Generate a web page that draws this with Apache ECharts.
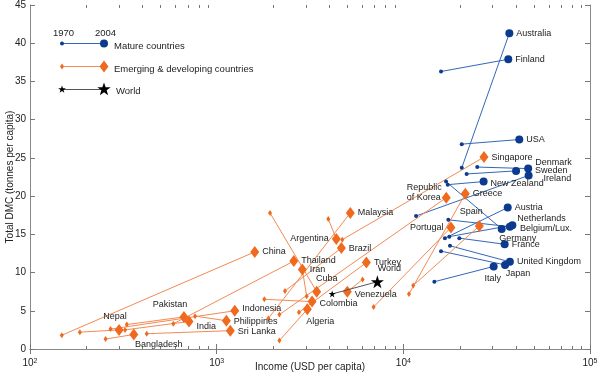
<!DOCTYPE html>
<html><head><meta charset="utf-8">
<script src="https://cdn.jsdelivr.net/npm/echarts@6/dist/echarts.min.js"></script>
<style>html,body{margin:0;padding:0;background:#fff}#c{width:600px;height:376px}</style>
</head><body><div id="c"></div>
<script>
// Mature countries
var matureNames = ['Australia','Finland','USA','Denmark','Sweden','Ireland','New Zealand','Austria','Netherlands','Belgium/Lux.','Germany','France','United Kingdom','Japan','Italy'];
var matureInc1970 = [20560,15920,20560,24880,21830,11700,17300,16700,17630,17420,16940,19950,17780,15920,14660];
var matureDmc1970 = [23.7,36.3,26.8,23.8,22.9,17.4,21.5,14.5,14.7,16.9,21.9,14.5,13.5,12.8,8.8];
var matureInc2004 = [36980,36500,41800,46650,40180,46900,26920,36240,38370,37220,33650,34900,37220,35070,30480];
var matureDmc2004 = [41.3,37.9,27.4,23.6,23.3,22.7,21.9,18.5,16.2,16.0,15.7,13.7,11.4,11.0,10.8];

// Emerging & developing countries
var emergNames = ['Singapore','Republic of Korea','Greece','Spain','Portugal','Malaysia','Argentina','Brazil','China','Thailand','Iran','Turkey','Cuba','Venezuela','Colombia','Algeria','Indonesia','Philippines','Sri Lanka','Pakistan','India','Nepal','Bangladesh'];
var emergInc1970 = [4710,2168,10720,11300,6930,1892,3963,2323,148,586,3035,2760,1931,6050,1800,2168,270,766,422,330,323,185,254];
var emergDmc1970 = [14.3,4.5,7.2,8.3,5.5,4.0,17.0,7.6,1.8,3.3,6.9,4.8,17.8,9.1,6.5,1.1,2.6,4.3,2.0,3.2,2.5,2.2,1.3];
var emergInc2004 = [27040,16980,21480,25530,17990,5200,4375,4656,1600,2590,2877,6340,3435,5012,3245,3060,1250,1127,1183,668,711,300,360];
var emergDmc2004 = [25.1,19.8,20.3,16.1,15.9,17.8,14.4,13.2,12.7,11.5,10.4,11.3,7.5,7.5,6.2,5.2,5.0,3.7,2.4,4.2,3.6,2.5,1.9];

// World
var worldInc = [4158,7260];
var worldDmc = [7.2,8.8];

var xMajorTicks = [100,1000,10000,100000];
var xMinorTicks = [200,300,400,500,600,700,800,900,2000,3000,4000,5000,6000,7000,8000,9000,20000,30000,40000,50000,60000,70000,80000,90000];
var yTicks = [0,5,10,15,20,25,30,35,40,45];

var labelPos = {
 'Australia':['right',[0,0]],'Finland':['right',[0,0]],'USA':['right',[0,0]],
 'Denmark':['right',[0,-6]],'Sweden':['right',[12,0]],'Ireland':['right',[8,3]],
 'New Zealand':['right',[0,2]],'Austria':['right',[0,0]],'Netherlands':['right',[-2,-7]],
 'Belgium/Lux.':['right',[3,2]],'Germany':['bottom',[16,-2]],'France':['right',[0,0]],
 'United Kingdom':['right',[0,0]],'Japan':['bottom',[13,-3]],'Italy':['bottom',[-1,0]],
 'Singapore':['right',[0,0]],'Republic of Korea':['left',[6,-5]],'Greece':['right',[0,0]],
 'Spain':['top',[-8,0]],'Portugal':['left',[0,0]],'Malaysia':['right',[0,0]],
 'Argentina':['left',[0,0]],'Brazil':['right',[0,0]],'China':['right',[0,0]],
 'Thailand':['right',[0,-1]],'Iran':['right',[0,0]],'Turkey':['right',[0,0]],
 'Cuba':['top',[10,1]],'Venezuela':['right',[0,3]],'Colombia':['right',[0,2]],
 'Algeria':['bottom',[13,-2]],'Indonesia':['right',[0,-2]],'Philippines':['right',[0,1]],
 'Sri Lanka':['right',[0,1]],'Pakistan':['top',[-14,2]],'India':['right',[0,5]],
 'Nepal':['top',[-4,1]],'Bangladesh':['bottom',[25,-4]],'World':['top',[12,1]]
};
var labelText = {'Republic of Korea':'{a|Republic}\n{a|of Korea}'};

var FONT='Liberation Sans';
var BLUE='#0b3a8e', BLUE_L='#3467b8', ORANGE='#ef6a1f', ORANGE_L='#f28b55';
var STAR='path://M50,0 L61.8,35.3 L99,35.3 L69,57.3 L80.2,93 L50,71 L19.8,93 L31,57.3 L1,35.3 L38.2,35.3 Z';
var series = [];
function addPair(name, x1,y1,x2,y2, kind){
  var lp = labelPos[name] || ['right',[0,0]];
  var col, lcol, sym, s1, s2;
  if(kind==='m'){col=BLUE;lcol=BLUE_L;sym='circle';s1=4;s2=8;}
  else if(kind==='e'){col=ORANGE;lcol=ORANGE_L;sym='diamond';s1=[4,6];s2=[9,12];}
  else {col='#000';lcol='#555';sym=STAR;s1=7;s2=13;}
  var lab = {show:false, formatter: labelText[name]||name, position:lp[0], offset:lp[1],
      color:'#222', fontSize:9, fontFamily:FONT, distance:3, lineHeight:10,
      rich:{a:{width:38,align:'left',fontSize:9,fontFamily:FONT,color:'#222',lineHeight:10}}};
  series.push({
    type:'line', name:name, silent:true, animation:false, z: kind==='w'?5:3,
    data:[{value:[x1,y1],symbolSize:s1,label:{show:false}},
          {value:[x2,y2],symbolSize:s2,label:{show:true}}],
    symbol:sym, showSymbol:true,
    lineStyle:{color:lcol,width:1}, itemStyle:{color:col},
    label:lab
  });
}
for(var i=0;i<matureNames.length;i++) addPair(matureNames[i],matureInc1970[i],matureDmc1970[i],matureInc2004[i],matureDmc2004[i],'m');
for(var i=0;i<emergNames.length;i++) addPair(emergNames[i],emergInc1970[i],emergDmc1970[i],emergInc2004[i],emergDmc2004[i],'e');
addPair('World',worldInc[0],worldDmc[0],worldInc[1],worldDmc[1],'w');

series.push({
  type:'custom', silent:true, animation:false, clip:false, z:1,
  data: xMinorTicks.map(function(v){return [v, yTicks[0]];}),
  encode:{x:0,y:1},
  renderItem:function(params, api){
    var b = api.coord([api.value(0), yTicks[0]]);
    var t = api.coord([api.value(0), yTicks[yTicks.length-1]]);
    var st = {stroke:'#777', lineWidth:1};
    var xb = Math.round(b[0])+0.5;
    return {type:'group', children:[
      {type:'line', shape:{x1:xb,y1:b[1],x2:xb,y2:b[1]-3}, style:st},
      {type:'line', shape:{x1:xb,y1:t[1],x2:xb,y2:t[1]+3}, style:st}
    ]};
  }
});

function starPts(cx,cy,R){
  var p=[];for(var k=0;k<10;k++){var r=k%2?R*0.4:R;var a=-Math.PI/2+k*Math.PI/5;p.push([cx+r*Math.cos(a),cy+r*Math.sin(a)]);}return p;
}

var chart = echarts.init(document.getElementById('c'),null,{renderer:'canvas'});
var axisLineStyle = {lineStyle:{color:'#888',width:1}};
chart.setOption({
  backgroundColor:'#fff',
  animation:false,
  grid:{left:30,right:10,top:5,bottom:27,containLabel:false,outerBoundsMode:'none'},
  xAxis:[{
    type:'log', logBase:10, min:xMajorTicks[0], max:xMajorTicks[xMajorTicks.length-1],
    axisLine:axisLineStyle, axisTick:{inside:true,length:5,lineStyle:{color:'#777'}},
    splitLine:{show:false},
    name:'Income (USD per capita)', nameLocation:'middle', nameGap:13, nameMoveOverlap:false,
    nameTextStyle:{fontFamily:FONT,fontSize:10,color:'#222'},
    axisLabel:{margin:9, formatter:function(v){return '{b|10}{s|'+Math.round(Math.log(v)/Math.LN10)+'}';},
      rich:{b:{fontFamily:FONT,fontSize:10,color:'#222'},s:{fontFamily:FONT,fontSize:7,color:'#222',verticalAlign:'top'}}}
  },{
    type:'log', logBase:10, min:xMajorTicks[0], max:xMajorTicks[xMajorTicks.length-1], position:'top',
    axisLine:axisLineStyle, axisTick:{inside:true,length:5,lineStyle:{color:'#777'}},
    axisLabel:{show:false}, splitLine:{show:false}
  }],
  yAxis:[{
    type:'value', min:yTicks[0], max:yTicks[yTicks.length-1], interval:5,
    axisLine:{show:true,lineStyle:{color:'#888'}}, axisTick:{show:true,inside:true,length:5,lineStyle:{color:'#777'}},
    splitLine:{show:false},
    axisLabel:{margin:4,fontFamily:FONT,fontSize:10,color:'#222'},
    name:'Total DMC (tonnes per capita)', nameLocation:'middle', nameGap:15, nameMoveOverlap:false,
    nameTextStyle:{fontFamily:FONT,fontSize:10,color:'#222'}
  },{
    type:'value', min:yTicks[0], max:yTicks[yTicks.length-1], interval:5, position:'right',
    axisLine:{show:true,lineStyle:{color:'#888'}}, axisTick:{show:true,inside:true,length:5,lineStyle:{color:'#777'}},
    axisLabel:{show:false}, splitLine:{show:false}
  }],
  graphic:[
    {type:'text',x:53,y:28,style:{text:'1970',font:'9.5px Liberation Sans',fill:'#222'}},
    {type:'text',x:95,y:28,style:{text:'2004',font:'9.5px Liberation Sans',fill:'#222'}},
    {type:'line',shape:{x1:62,y1:43.5,x2:104,y2:43.5},style:{stroke:BLUE_L,lineWidth:1}},
    {type:'circle',shape:{cx:62,cy:43.5,r:2},style:{fill:BLUE}},
    {type:'circle',shape:{cx:104,cy:43.5,r:4},style:{fill:BLUE}},
    {type:'text',x:114,y:41,style:{text:'Mature countries',font:'9.5px Liberation Sans',fill:'#222'}},
    {type:'line',shape:{x1:62,y1:66.5,x2:104,y2:66.5},style:{stroke:ORANGE_L,lineWidth:1}},
    {type:'polygon',shape:{points:[[62,63.5],[64,66.5],[62,69.5],[60,66.5]]},style:{fill:ORANGE}},
    {type:'polygon',shape:{points:[[104,60.5],[108.5,66.5],[104,72.5],[99.5,66.5]]},style:{fill:ORANGE}},
    {type:'text',x:114,y:64,style:{text:'Emerging & developing countries',font:'9.5px Liberation Sans',fill:'#222'}},
    {type:'line',shape:{x1:62,y1:89.5,x2:104,y2:89.5},style:{stroke:'#555',lineWidth:1}},
    {type:'polygon',shape:{points:starPts(62,89.5,4)},style:{fill:'#000'}},
    {type:'polygon',shape:{points:starPts(104,89.5,7)},style:{fill:'#000'}},
    {type:'text',x:116,y:86,style:{text:'World',font:'9.5px Liberation Sans',fill:'#222'}}
  ],
  series:series
});
</script></body></html>
